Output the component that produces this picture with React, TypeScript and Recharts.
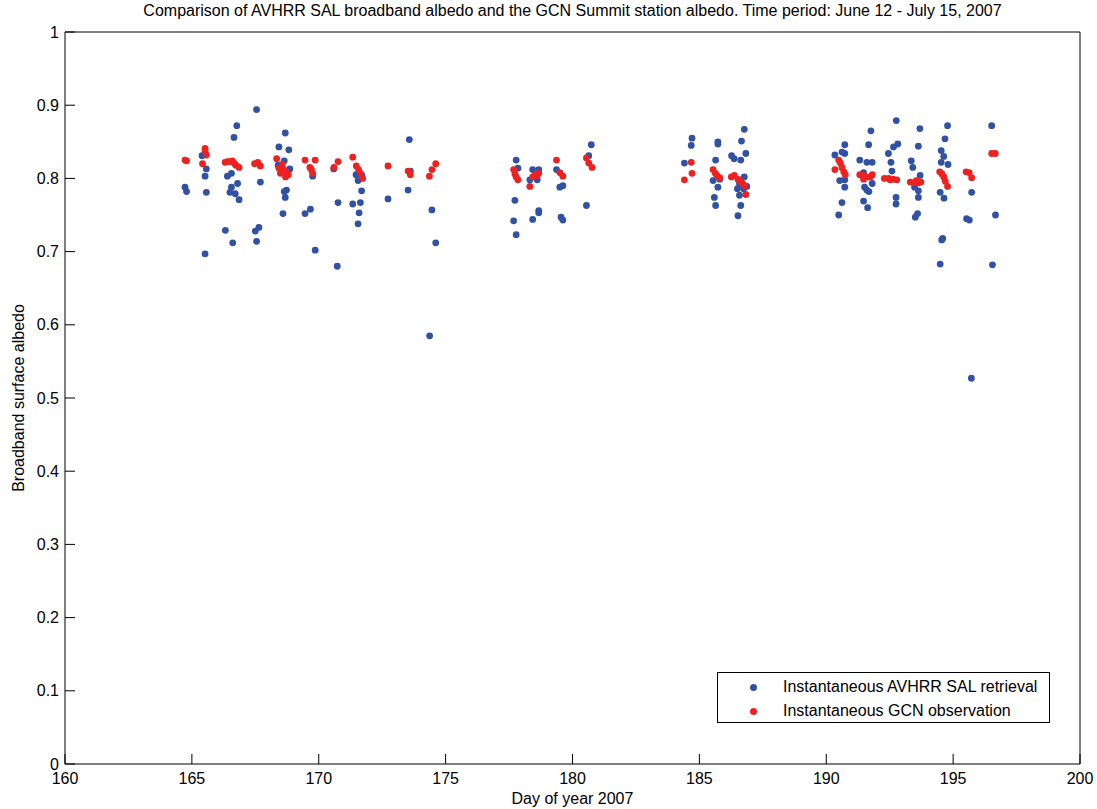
import {
  ScatterChart,
  Scatter,
  XAxis,
  YAxis,
  Legend,
} from 'recharts';

// Day of year / albedo pairs
const avhrrDay = [
  167.55, 166.77, 166.66, 168.68, 168.43, 168.82, 165.4, 168.64, 165.57, 165.52,
  166.4, 166.56, 168.86, 169.76, 164.73, 164.79, 165.57, 166.8, 166.56, 166.5,
  166.71, 166.86, 167.7, 168.73, 168.64, 168.68, 168.59, 169.67, 169.46, 170.76,
  166.32, 166.61, 167.5, 167.64, 167.55, 165.52, 169.86, 170.73, 168.4,
  173.57, 170.59, 171.47, 171.7, 171.55, 171.69, 171.34, 171.64, 171.59, 171.55,
  172.73, 173.52, 173.61, 174.46, 174.61, 174.37,
  180.74, 180.64, 177.78, 177.85, 178.43, 178.67, 178.32, 178.61, 179.37, 179.5,
  179.62, 177.73, 180.55, 178.67, 178.67, 178.43, 177.68, 179.55, 179.62, 177.78,
  184.71, 184.68, 185.73, 185.73, 186.77, 186.66, 186.83, 186.27, 186.37, 186.63,
  185.64, 185.54, 185.8, 185.73, 185.59, 185.64, 186.77, 186.5, 186.74, 186.87,
  186.58, 186.63, 186.52, 186.58, 184.41,
  190.34, 190.62, 190.73, 190.73, 190.53, 190.73, 190.73, 190.62, 190.49, 191.76,
  191.67, 191.32, 191.6, 191.81, 191.47, 191.81, 191.51, 191.6, 191.68, 191.47,
  191.63, 192.76, 192.65, 192.82, 192.45, 192.55, 192.59, 192.75, 192.75, 193.69,
  193.63, 193.35, 193.41, 193.7, 193.48, 193.63, 193.63, 193.51, 193.6,
  194.78, 194.68, 194.53, 194.63, 194.53, 194.8, 194.49, 194.64, 194.55, 194.59,
  194.49, 196.52, 195.73, 195.53, 195.64, 196.67, 196.55, 195.72,
];
const avhrrAlbedo = [
  0.894, 0.872, 0.856, 0.862, 0.843, 0.839, 0.831, 0.824, 0.813, 0.803,
  0.803, 0.807, 0.813, 0.803, 0.788, 0.782, 0.781, 0.793, 0.788, 0.781,
  0.779, 0.771, 0.795, 0.784, 0.782, 0.774, 0.752, 0.758, 0.752, 0.767,
  0.729, 0.712, 0.728, 0.733, 0.714, 0.697, 0.702, 0.68, 0.818,
  0.853, 0.813, 0.805, 0.804, 0.797, 0.783, 0.765, 0.767, 0.753, 0.738,
  0.772, 0.784, 0.81, 0.757, 0.712, 0.585,
  0.846, 0.831, 0.825, 0.814, 0.812, 0.812, 0.798, 0.798, 0.812, 0.788,
  0.79, 0.77, 0.763, 0.756, 0.753, 0.744, 0.742, 0.747, 0.743, 0.723,
  0.855, 0.845, 0.85, 0.847, 0.867, 0.851, 0.834, 0.831, 0.827, 0.825,
  0.825, 0.797, 0.799, 0.788, 0.774, 0.763, 0.802, 0.786, 0.786, 0.789,
  0.777, 0.763, 0.749, 0.793, 0.821,
  0.832, 0.836, 0.834, 0.846, 0.797, 0.798, 0.788, 0.767, 0.75, 0.865,
  0.846, 0.825, 0.822, 0.822, 0.808, 0.793, 0.788, 0.784, 0.782, 0.769,
  0.76, 0.879, 0.843, 0.847, 0.834, 0.822, 0.81, 0.774, 0.765, 0.868,
  0.844, 0.824, 0.815, 0.804, 0.788, 0.783, 0.774, 0.747, 0.752,
  0.872, 0.854, 0.838, 0.83, 0.822, 0.819, 0.781, 0.773, 0.716, 0.718,
  0.683, 0.872, 0.781, 0.745, 0.743, 0.75, 0.682, 0.527,
];

const gcnDay = [
  164.73, 164.79, 165.52, 165.52, 165.57, 165.42, 166.31, 166.4, 166.49, 166.59,
  166.66, 166.73, 166.86, 167.47, 167.6, 167.7, 168.34, 168.43, 168.56, 168.62,
  168.49, 168.73, 168.8, 168.69, 169.46, 169.86, 169.65, 169.71, 169.76, 170.76,
  170.6, 171.34, 171.48, 171.57, 171.64, 171.73, 172.73, 173.52, 173.61, 174.61,
  174.46, 174.36,
  177.68, 177.73, 177.78, 177.85, 178.43, 178.54, 178.67, 178.61, 178.32, 179.37,
  179.5, 179.62, 180.55, 180.64, 180.77,
  184.41, 184.68, 184.71, 185.54, 185.63, 185.69, 185.8, 186.26, 186.38, 186.52,
  186.61, 186.7, 186.78, 186.83,
  190.34, 190.49, 190.56, 190.62, 190.69, 190.75, 191.32, 191.47, 191.6, 191.74,
  191.81, 191.47, 192.29, 192.46, 192.63, 192.78, 192.52, 193.31, 193.46, 193.63,
  193.73, 193.55, 194.47, 194.56, 194.63, 194.69, 194.78, 195.51, 195.63, 195.73,
  196.52, 196.66,
];
const gcnAlbedo = [
  0.825, 0.824, 0.841, 0.838, 0.832, 0.82, 0.822, 0.823, 0.823, 0.824,
  0.821, 0.818, 0.815, 0.82, 0.822, 0.817, 0.827, 0.814, 0.819, 0.812,
  0.807, 0.809, 0.805, 0.802, 0.825, 0.825, 0.815, 0.812, 0.807, 0.823,
  0.815, 0.829, 0.817, 0.812, 0.807, 0.8, 0.817, 0.81, 0.805, 0.82,
  0.812, 0.803,
  0.812, 0.806, 0.802, 0.798, 0.802, 0.805, 0.807, 0.804, 0.789, 0.825,
  0.808, 0.803, 0.828, 0.821, 0.815,
  0.798, 0.822, 0.807, 0.812, 0.807, 0.804, 0.801, 0.802, 0.804, 0.799,
  0.796, 0.793, 0.79, 0.778,
  0.812, 0.825, 0.821, 0.815, 0.809, 0.805, 0.805, 0.804, 0.802, 0.802,
  0.805, 0.799, 0.8, 0.8, 0.799, 0.798, 0.798, 0.795, 0.794, 0.794,
  0.795, 0.797, 0.809, 0.806, 0.802, 0.796, 0.789, 0.809, 0.808, 0.801,
  0.834, 0.834,
];

const xTicks = [160, 165, 170, 175, 180, 185, 190, 195, 200];
const yTicks = [0, 0.1, 0.2, 0.3, 0.4, 0.5, 0.6, 0.7, 0.8, 0.9, 1];

const BLUE = '#3152a4';
const RED = '#ee2121';
const FONT = '"Liberation Sans", Arial, sans-serif';

const avhrrData = avhrrDay.map((d, i) => ({ day: d, albedo: avhrrAlbedo[i] }));
const gcnData = gcnDay.map((d, i) => ({ day: d, albedo: gcnAlbedo[i] }));

const dot = (color: string) => (p: any) => (
  <circle cx={p.cx} cy={p.cy} r={3.4} fill={color} />
);

const legendItems = [
  { name: 'Instantaneous AVHRR SAL retrieval', color: BLUE },
  { name: 'Instantaneous GCN observation', color: RED },
];

const LegendBox = () => (
  <div
    style={{
      width: 333,
      height: 51,
      border: '1px solid #000',
      background: '#fff',
      boxSizing: 'border-box',
      position: 'relative',
      fontFamily: FONT,
      fontSize: 16,
      color: '#000',
    }}
  >
    {legendItems.map((it, i) => (
      <div
        key={it.name}
        style={{ position: 'absolute', left: 0, top: 4 + i * 24, height: 20, width: '100%' }}
      >
        <span
          style={{
            position: 'absolute',
            left: 32,
            top: 7,
            width: 7,
            height: 7,
            borderRadius: '50%',
            background: it.color,
          }}
        />
        <span style={{ position: 'absolute', left: 65, top: 0, lineHeight: '20px', whiteSpace: 'nowrap' }}>
          {it.name}
        </span>
      </div>
    ))}
  </div>
);

const tickStyle = { fontSize: 16, fill: '#000', fontFamily: FONT };

export default function App() {
  return (
    <div
      style={{
        position: 'absolute',
        left: 0,
        top: 0,
        width: 1097,
        height: 809,
        background: '#fff',
      }}
    >
      <div
        style={{
          position: 'absolute',
          left: 0,
          top: 2,
          width: 1145,
          textAlign: 'center',
          fontFamily: FONT,
          fontSize: 16,
          color: '#000',
          whiteSpace: 'nowrap',
        }}
      >
        Comparison of AVHRR SAL broadband albedo and the GCN Summit station albedo. Time period: June 12 - July 15, 2007
      </div>
      <ScatterChart
        width={1097}
        height={809}
        margin={{ top: 31, right: 16, bottom: 0, left: 0 }}
      >
        <XAxis
          xAxisId="b"
          dataKey="day"
          type="number"
          domain={[160, 200]}
          ticks={xTicks}
          interval={0}
          height={45}
          stroke="#000"
          tickSize={-10}
          tickMargin={19}
          tick={tickStyle}
          label={{
            value: 'Day of year 2007',
            position: 'insideBottom',
            offset: 5,
            style: { fontSize: 16, fill: '#000', fontFamily: FONT },
          }}
        />
        <XAxis
          xAxisId="t"
          dataKey="day"
          orientation="top"
          type="number"
          domain={[160, 200]}
          ticks={xTicks}
          interval={0}
          height={1}
          stroke="#000"
          tickSize={10}
          tick={false}
        />
        <YAxis
          yAxisId="l"
          dataKey="albedo"
          type="number"
          domain={[0, 1]}
          ticks={yTicks}
          interval={0}
          width={65}
          stroke="#000"
          tickSize={-10}
          tickMargin={16}
          tick={tickStyle}
          label={{
            value: 'Broadband surface albedo',
            angle: -90,
            position: 'insideLeft',
            offset: 18,
            style: { fontSize: 16, fill: '#000', fontFamily: FONT, textAnchor: 'middle' },
          }}
        />
        <YAxis
          yAxisId="r"
          dataKey="albedo"
          orientation="right"
          type="number"
          domain={[0, 1]}
          ticks={yTicks}
          interval={0}
          width={1}
          stroke="#000"
          tickSize={10}
          tick={false}
        />
        <Legend
          layout="horizontal"
          verticalAlign="middle"
          align="center"
          content={() => <LegendBox />}
          wrapperStyle={{ left: 717, top: 672, width: 333, height: 51 }}
        />
        <Scatter
          name="Instantaneous AVHRR SAL retrieval"
          data={avhrrData}
          xAxisId="b"
          yAxisId="l"
          fill={BLUE}
          shape={dot(BLUE)}
          isAnimationActive={false}
        />
        <Scatter
          name="Instantaneous GCN observation"
          data={gcnData}
          xAxisId="b"
          yAxisId="l"
          fill={RED}
          shape={dot(RED)}
          isAnimationActive={false}
        />
        {/* invisible series so the top/right frame axes get drawn */}
        <Scatter
          data={[]}
          xAxisId="t"
          yAxisId="r"
          legendType="none"
          isAnimationActive={false}
        />
      </ScatterChart>
    </div>
  );
}
